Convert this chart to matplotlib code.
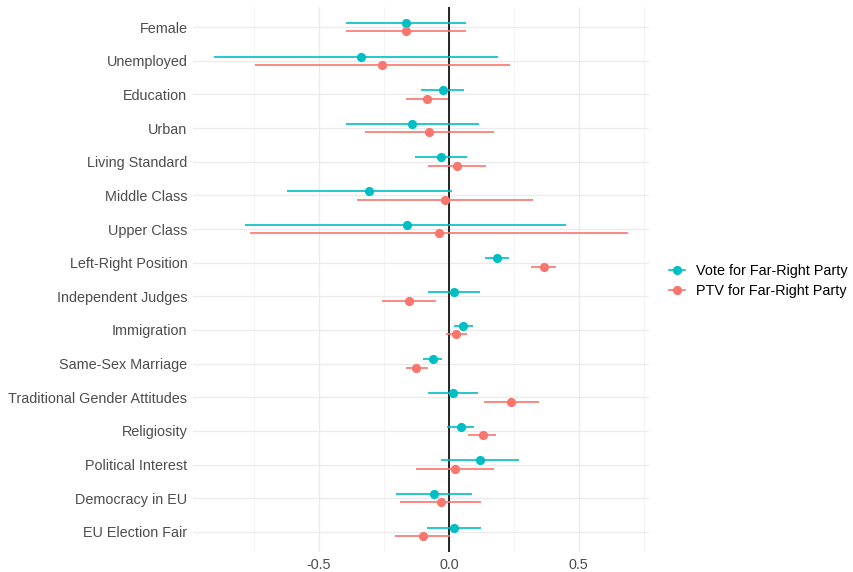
import matplotlib.pyplot as plt
import numpy as np
from matplotlib.lines import Line2D

plt.rcParams['font.family'] = ['Liberation Sans', 'DejaVu Sans']

variables = ["Female", "Unemployed", "Education", "Urban", "Living Standard",
             "Middle Class", "Upper Class", "Left-Right Position", "Independent Judges",
             "Immigration", "Same-Sex Marriage", "Traditional Gender Attitudes",
             "Religiosity", "Political Interest", "Democracy in EU", "EU Election Fair"]

# Vote for Far-Right Party: estimate, lower, upper
vote_est = [-0.164, -0.337, -0.024, -0.143, -0.030, -0.308, -0.160, 0.185,
            0.018, 0.054, -0.063, 0.015, 0.046, 0.118, -0.057, 0.019]
vote_lo = [-0.397, -0.905, -0.108, -0.397, -0.130, -0.623, -0.786, 0.139,
           -0.080, 0.018, -0.100, -0.082, -0.006, -0.030, -0.202, -0.085]
vote_hi = [0.067, 0.189, 0.057, 0.116, 0.071, 0.013, 0.450, 0.232,
           0.118, 0.093, -0.026, 0.112, 0.098, 0.268, 0.089, 0.124]

# PTV for Far-Right Party: estimate, lower, upper
ptv_est = [-0.165, -0.258, -0.085, -0.076, 0.031, -0.015, -0.039, 0.364,
           -0.153, 0.028, -0.126, 0.240, 0.130, 0.023, -0.031, -0.100]
ptv_lo = [-0.397, -0.748, -0.165, -0.323, -0.080, -0.355, -0.765, 0.317,
          -0.256, -0.013, -0.167, 0.134, 0.075, -0.126, -0.187, -0.207]
ptv_hi = [0.067, 0.234, -0.004, 0.173, 0.143, 0.325, 0.690, 0.412,
          -0.048, 0.070, -0.082, 0.345, 0.182, 0.173, 0.125, 0.003]

series = [("Vote for Far-Right Party", "#00BFC4", vote_est, vote_lo, vote_hi, 0.128),
          ("PTV for Far-Right Party", "#F8766D", ptv_est, ptv_lo, ptv_hi, -0.128)]

fs = 10.4

fig = plt.figure(figsize=(8.54, 5.72), dpi=100)
ax = fig.add_axes([193 / 854, 1 - 552 / 572, (649 - 193) / 854, (552 - 7) / 572])

n = len(variables)
ypos = np.arange(n, 0, -1)

ax.axvline(0, color="black", lw=1.2, zorder=2)

handles = []
for label, color, est, lo, hi, off in series:
    est = np.array(est)
    lo = np.array(lo)
    hi = np.array(hi)
    ax.hlines(ypos + off, lo, hi, color=color, lw=1.2, zorder=3)
    ax.plot(est, ypos + off, "o", color=color, ms=5.6, zorder=4)
    handles.append(Line2D([0], [0], color=color, lw=1.2, marker="o", ms=5.6, label=label))

ax.set_xlim(-0.985, 0.77)
ax.set_ylim(0.4, n + 0.6)
ax.set_yticks(ypos)
ax.set_yticklabels(variables, fontsize=fs, color="#4D4D4D")
ax.set_xticks([-0.5, 0.0, 0.5])
ax.set_xticklabels(["-0.5", "0.0", "0.5"], fontsize=fs, color="#4D4D4D")
ax.set_xticks([-0.75, -0.25, 0.25, 0.75], minor=True)

ax.grid(True, which="major", color="#EBEBEB", lw=1.0)
ax.grid(True, which="minor", axis="x", color="#F2F2F2", lw=0.6)
ax.set_axisbelow(True)
for s in ax.spines.values():
    s.set_visible(False)
ax.tick_params(length=0, pad=4)
ax.tick_params(which="minor", length=0)

fig.legend(handles=handles, loc="center left", bbox_to_anchor=(669 / 854, 1 - 281 / 572),
           frameon=False, fontsize=fs, handlelength=1.1, handletextpad=0.75,
           labelspacing=0.4, borderaxespad=0, borderpad=0)

fig.savefig("out.png", dpi=100)
